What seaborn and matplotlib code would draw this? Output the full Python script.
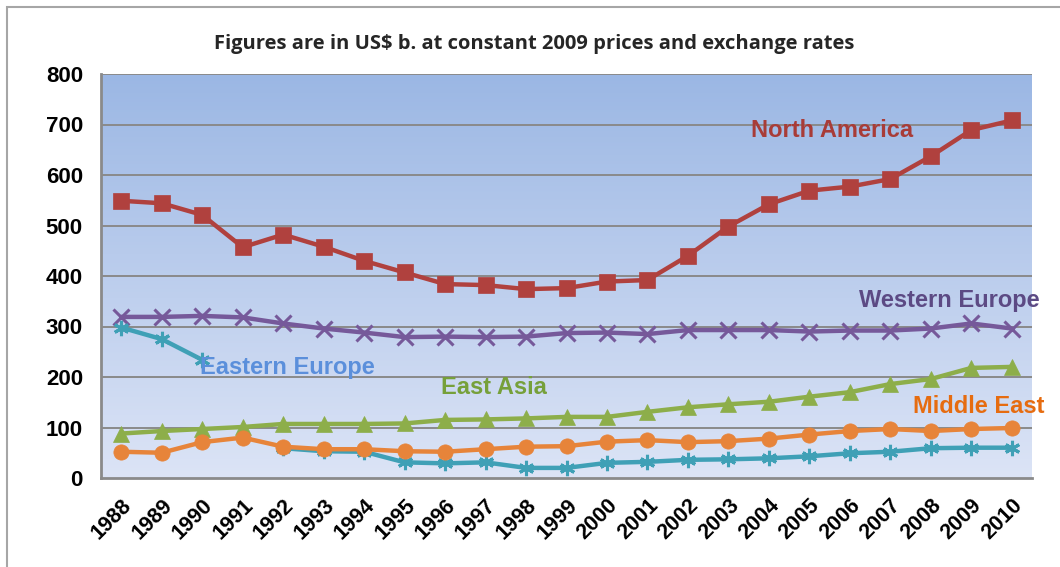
import numpy as np
import pandas as pd
import matplotlib
matplotlib.use("Agg")
import matplotlib.pyplot as plt
import seaborn as sns
from matplotlib.colors import LinearSegmentedColormap
from matplotlib.patches import Rectangle

years = list(range(1988, 2011))
north_america = [549, 544, 521, 457, 482, 458, 430, 407, 384, 382, 374, 376, 389, 392,
                 440, 498, 542, 569, 577, 592, 637, 689, 708]
western_europe = [319, 319, 321, 318, 306, 296, 288, 279, 280, 279, 280, 287, 288, 285,
                  293, 293, 293, 290, 292, 292, 296, 306, 296]
eastern_europe = [298, 275, 234, np.nan, 59, 53, 52, 31, 29, 31, 20, 20, 30, 32,
                  36, 37, 39, 43, 49, 52, 59, 60, 60]
east_asia = [88, 93, 97, 101, 107, 107, 107, 108, 115, 116, 118, 121, 121, 131,
             140, 146, 151, 161, 170, 186, 196, 218, 220]
middle_east = [52, 50, 71, 80, 62, 57, 57, 53, 52, 57, 62, 63, 72, 75,
               71, 73, 78, 86, 93, 97, 93, 97, 99]

title = "Figures are in US$ b. at constant 2009 prices and exchange rates"
yticks = [0, 100, 200, 300, 400, 500, 600, 700, 800]

series = {
    "North America": north_america,
    "Western Europe": western_europe,
    "Eastern Europe": eastern_europe,
    "East Asia": east_asia,
    "Middle East": middle_east,
}
line_colors = {
    "North America": "#b0413e",
    "Western Europe": "#76599a",
    "Eastern Europe": "#3fa0b6",
    "East Asia": "#8dae4a",
    "Middle East": "#e7843a",
}
text_colors = {
    "North America": "#a83c38",
    "Western Europe": "#5c4a84",
    "Eastern Europe": "#5b8fdb",
    "East Asia": "#76a03a",
    "Middle East": "#e66c10",
}
markers = {
    "North America": "s",
    "Western Europe": "x",
    "Eastern Europe": (6, 2, 0),
    "East Asia": "^",
    "Middle East": "o",
}
label_pos = {
    "North America": (2003.55, 689, "left"),
    "Western Europe": (2010.7, 352, "right"),
    "Eastern Europe": (1989.95, 218, "left"),
    "East Asia": (1995.9, 180, "left"),
    "Middle East": (2007.55, 141, "left"),
}

sns.set_theme(style="white")
plt.rcParams["font.family"] = ["Liberation Sans", "DejaVu Sans"]

fig = plt.figure(figsize=(10.6, 5.67), dpi=100)
fig.patch.set_facecolor("white")
# outer chart border (cut at right and bottom)
fig.patches.append(Rectangle((7 / 1060, -0.05), 1.2, 1 - 7 / 567 + 0.05,
                             transform=fig.transFigure, fill=False,
                             edgecolor="#a6a6a6", linewidth=1.5))

ax = fig.add_axes([101 / 1060, 1 - 478 / 567, (1032 - 101) / 1060, (478 - 74) / 567])

# gradient background
cmap = LinearSegmentedColormap.from_list("bg", ["#dce4f6", "#9bb7e4"])
grad = np.linspace(0, 1, 256).reshape(-1, 1)
ax.imshow(grad, aspect="auto", cmap=cmap, origin="lower",
          extent=[0, 1, 0, 1], transform=ax.transAxes, zorder=0)

for y in yticks[1:]:
    ax.axhline(y, color="#8a8a8a", linewidth=1.4, zorder=1)

for name, vals in series.items():
    df = pd.DataFrame({"year": years, "value": vals})
    # split into contiguous segments (gaps for missing values)
    valid = df["value"].notna()
    seg_id = (~valid).cumsum()
    for _, seg in df[valid].groupby(seg_id[valid]):
        mk = markers[name]
        kw = dict(markersize=11, markeredgewidth=2.2 if mk in ("x", (6, 2, 0)) else 0.5,
                  markeredgecolor=line_colors[name])
        sns.lineplot(data=seg, x="year", y="value", ax=ax, color=line_colors[name],
                     linewidth=3.2, marker=mk, zorder=3, **kw)

for name, (x, y, ha) in label_pos.items():
    ax.text(x, y, name, color=text_colors[name], fontsize=17, fontweight="bold",
            ha=ha, va="center", zorder=5, clip_on=False)

ax.set_xlim(1987.5, 2010.5)
ax.set_ylim(0, 800)
ax.set_xticks(years)
ax.set_xticklabels([str(y) for y in years], rotation=45, ha="right",
                   rotation_mode="anchor", fontsize=15.5, fontweight="bold")
ax.set_yticks(yticks)
ax.set_yticklabels([str(v) for v in yticks], fontsize=16, fontweight="bold")
ax.tick_params(axis="y", length=0, pad=13, colors="black")
ax.tick_params(axis="x", length=0, pad=12, colors="black")
ax.set_xlabel("")
ax.set_ylabel("")
for s in ["top", "right"]:
    ax.spines[s].set_visible(False)
for s in ["left", "bottom"]:
    ax.spines[s].set_color("#8a8a8a")
    ax.spines[s].set_linewidth(2)

fig.text(534 / 1060, 1 - 44 / 567, title, ha="center", va="center",
         fontsize=14.5, fontweight="bold", family=["Open Sans", "DejaVu Sans"])

fig.savefig("out.png", dpi=100)
